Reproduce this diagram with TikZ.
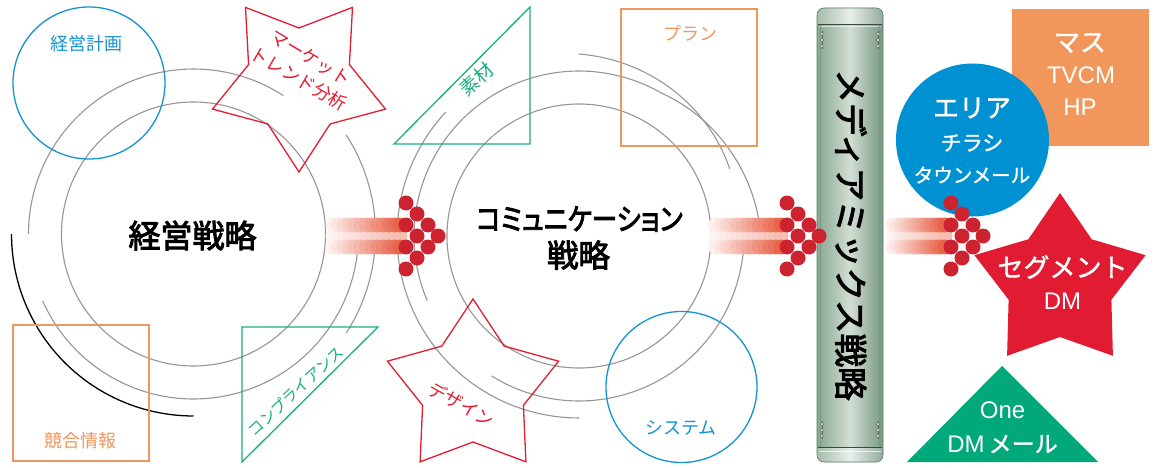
\documentclass[tikz,border=0pt]{standalone}
\usepackage{graphicx}
\usepackage{fontspec}
\setmainfont{Noto Sans CJK JP}
\newfontfamily\jp{Noto Sans CJK JP}
\newfontfamily\jpw[FakeBold=1.5]{Noto Sans CJK JP}
\newfontfamily\jpm[FakeBold=3]{Noto Sans CJK JP}
\newfontfamily\jpmp[FakeBold=3,RawFeature=+palt]{Noto Sans CJK JP}
\newfontfamily\lat{Liberation Sans}
\definecolor{ringgray}{RGB}{150,150,150}
\definecolor{bluec}{RGB}{20,148,210}
\definecolor{redc}{RGB}{226,30,48}
\definecolor{orangec}{RGB}{241,150,92}
\definecolor{greenc}{RGB}{25,175,128}
\definecolor{bluef}{RGB}{0,145,210}
\definecolor{redf}{RGB}{225,27,50}
\definecolor{greenf}{RGB}{0,168,122}
\definecolor{orangef}{RGB}{242,151,92}
\definecolor{dotred}{RGB}{205,35,48}
\definecolor{tailred}{RGB}{232,100,75}
\definecolor{pipeL}{RGB}{135,168,145}
\definecolor{pipeM}{RGB}{210,222,212}
\definecolor{pipeR}{RGB}{118,150,130}
\definecolor{pipeEdge}{RGB}{95,125,105}
\definecolor{boltc}{RGB}{80,95,88}
\newcommand{\dotarrow}[2]{%
  \foreach \i in {0,...,12}{%
    \pgfmathsetmacro\xx{#2+\i*(#1-6-#2)/12}%
    \pgfmathtruncatemacro\p{6+\i*3}%
    \fill[tailred!\p!white] (\xx,236) circle[radius=7.5];}
  \foreach \i in {0,...,12}{%
    \pgfmathsetmacro\xx{#2+\i*(#1-6-#2)/12}%
    \pgfmathtruncatemacro\p{10+\i*7.5}%
    \fill[tailred!\p!white] (\xx,225) circle[radius=7.5];
    \fill[tailred!\p!white] (\xx,247) circle[radius=7.5];}
  \foreach \dx/\dy in {0/-33,11/-22,0/-11,22/-11,11/0,32/0,0/11,22/11,11/22,0/33}
    \fill[dotred] (#1+\dx,236+\dy) circle[radius=7.5];
}
\begin{document}
\begin{tikzpicture}[x=1pt,y=-1pt,
  ring/.style={draw=ringgray,line width=1.1pt},
  outl/.style={line width=1.3pt},
  lbl/.style={inner sep=0pt,font=\jp\fontsize{18}{20}\selectfont},
  wlbl/.style={inner sep=0pt,text=white},
  big/.style={inner sep=0pt,font=\jpm\fontsize{32}{34}\selectfont}]
\useasboundingbox (0,0) rectangle (1157,468);
\fill[white] (0,0) rectangle (1157,468);

% ---- left rings
\draw[ring] (193.5,234) circle[radius=132];
\draw[ring] plot[domain=57:180,samples=60,variable=\t] ({193.5+165*cos(\t)},{234-165*sin(\t)});
\draw[ring] plot[domain=204:365,samples=80,variable=\t] ({193.5+165*cos(\t)},{234-165*sin(\t)});
\draw[ring] plot[domain=-33:33,samples=40,variable=\t] ({193.5+182*cos(\t)},{234-182*sin(\t)});
\draw[black,line width=1.3pt] plot[domain=180:270,samples=50,variable=\t] ({193.5+182*cos(\t)},{234-182*sin(\t)});

% ---- middle rings
\draw[ring] (579,236) circle[radius=132];
\draw[ring] plot[domain=238:360,samples=60,variable=\t] ({579+165*cos(\t)},{236-165*sin(\t)});
\draw[ring] plot[domain=137:270,samples=60,variable=\t] ({579+182*cos(\t)},{236-182*sin(\t)});
\draw[ring] plot[domain=24:90,samples=50,variable=\t] ({579+(165+17*(\t-24)/66)*cos(\t)},{236-(165+17*(\t-24)/66)*sin(\t)});
\draw[ring] plot[domain=0:60,samples=40,variable=\t] ({579+(182-17*\t/60)*cos(\t)},{236-(182-17*\t/60)*sin(\t)})
  -- plot[domain=60:203,samples=70,variable=\t] ({579+165*cos(\t)},{236-165*sin(\t)});

% ---- outline shapes
\draw[bluec,outl] (89,83) circle[radius=76];
\draw[bluec,outl] (681.5,387) circle[radius=75.5];
\draw[orangec,outl] (13,325) rectangle (149,461);
\draw[orangec,outl] (621,9) rectangle (757,146);
\draw[greenc,outl] (242,327) -- (378,327) -- (242,462) -- cycle;
\draw[greenc,outl] (530,7) -- (394,144) -- (530,144) -- cycle;
\draw[redc,outl] (299,172) -- (330.2,123.9) -- (385.5,109.1) -- (349.4,64.6) -- (352.5,7.4)
  -- (299,28) -- (245.5,7.4) -- (248.6,64.6) -- (212.5,109.1) -- (267.8,123.9) -- cycle;
\draw[redc,outl] (473,299) -- (441.8,346.1) -- (387.4,361.2) -- (422.6,405.4) -- (420.1,461.8)
  -- (473,442) -- (525.9,461.8) -- (523.4,405.4) -- (558.6,361.2) -- (504.2,346.1) -- cycle;

% ---- labels of outline shapes
\node[lbl,text=bluec] (keikaku) at (86.5,44) {経営計画};
\node[lbl,text=orangec] (kyogo) at (80,441) {競合情報};
\node[lbl,text=orangec] (plan) at (690.5,33) {プラン};
\node[lbl,text=bluec] (system) at (681,428) {システム};
\node[lbl,text=redc,rotate=-31] (mk1) at (310.5,58) {マーケット};
\node[lbl,text=redc,rotate=-30] (mk2) at (299,79) {トレンド分析};
\node[lbl,text=redc,rotate=-29] (design) at (461.5,404.5) {デザイン};
\node[lbl,text=greenc,rotate=42,font=\jp\fontsize{19}{21}\selectfont] (sozai) at (476.5,79) {素材};
\node[lbl,text=greenc,rotate=43,font=\jp\fontsize{15.5}{18}\selectfont] (comp) at (295.5,391) {コンプライアンス};

% ---- main labels
\node[big] (keiei) at (192.5,235.5) {経営戦略};
\node[big,font=\jpmp\fontsize{30}{32}\selectfont] (comm) at (579.5,219) {\scalebox{0.86}[1]{コミュニケーション}};
\node[big,font=\jpm\fontsize{31.5}{33}\selectfont] (senryaku) at (578.5,255) {戦略};

% ---- pipe
\begin{scope}
\clip[rounded corners=7] (817,8) rectangle (883,462);
\shade[left color=pipeL,right color=pipeR,middle color=pipeM] (817,8) rectangle (883,462);
\shade[left color=pipeL!75!white,right color=pipeR!80!white,middle color=pipeM!50!white] (817,8) rectangle (883,24);
\shade[left color=pipeL!75!white,right color=pipeR!80!white,middle color=pipeM!50!white] (817,448) rectangle (883,462);
\end{scope}
\draw[pipeEdge,line width=0.6pt,rounded corners=7] (817,8) rectangle (883,462);
\draw[pipeEdge!60!black,line width=1.2pt] (818,24.5) -- (882,24.5);
\draw[white,opacity=.6,line width=0.8pt] (819,26.5) -- (881,26.5);
\draw[pipeEdge!60!black,line width=1.2pt] (818,447.5) -- (882,447.5);
\draw[white,opacity=.7,line width=1pt] (819,451) -- (881,451);
\draw[pipeEdge!80,line width=0.5pt] (820.5,25) -- (820.5,447);
\draw[pipeEdge!80,line width=0.5pt] (879.5,25) -- (879.5,447);
\foreach \bx in {822,878}{\foreach \by in {40,430}{%
  \draw[boltc,line width=0.5pt] (\bx,\by-9) -- (\bx,\by+9);
  \foreach \o in {-6,0,6}
    \filldraw[fill=pipeM!70!white,draw=boltc,line width=0.4pt] (\bx,\by+\o) circle[radius=1.7];}}
\node[rotate=-90,inner sep=0pt,font=\jpm\fontsize{33.5}{35}\selectfont] (media) at (851,235) {メディアミックス戦略};

% ---- right filled shapes
\fill[orangef] (1012,9) rectangle (1149,146);
\fill[bluef] (972.5,140) circle[radius=76.5];
\fill[redf] (1060,193) -- (1028.3,239.3) -- (974.4,255.2) -- (1008.6,299.7) -- (1007.1,355.8)
  -- (1060,337) -- (1112.9,355.8) -- (1111.4,299.7) -- (1145.6,255.2) -- (1091.7,239.3) -- cycle;
\fill[greenf] (1002,366) -- (1098,462) -- (907,462) -- cycle;

\node[wlbl,font=\jpw\fontsize{26}{28}\selectfont] (masu) at (1080,43) {マス};
\node[wlbl,font=\lat\fontsize{24}{26}\selectfont] (tvcm) at (1081,75) {TVCM};
\node[wlbl,font=\lat\fontsize{24}{26}\selectfont] (hp) at (1080,107) {HP};
\node[wlbl,font=\jpw\fontsize{26}{28}\selectfont] (eria) at (972,108) {エリア};
\node[wlbl,font=\jpw\fontsize{21}{23}\selectfont] (chirashi) at (972,143) {チラシ};
\node[wlbl,font=\jpw\fontsize{19.5}{21}\selectfont] (town) at (972,175) {タウンメール};
\node[wlbl,font=\jpw\fontsize{26}{28}\selectfont] (seg) at (1062.5,267) {セグメント};
\node[wlbl,font=\lat\fontsize{24}{26}\selectfont] (dma) at (1062.5,301.5) {DM};
\node[wlbl,font=\lat\fontsize{24}{26}\selectfont] (one) at (1002.5,410) {One};
\node[wlbl,font=\jpw\fontsize{23}{26}\selectfont] (dmb) at (1002.5,444) {{\lat\fontsize{24}{26}\selectfont DM}\hspace{4pt}メール};

% ---- dot arrows
\dotarrow{406}{333}
\dotarrow{787}{716}
\dotarrow{951}{893}
\end{tikzpicture}
\end{document}
